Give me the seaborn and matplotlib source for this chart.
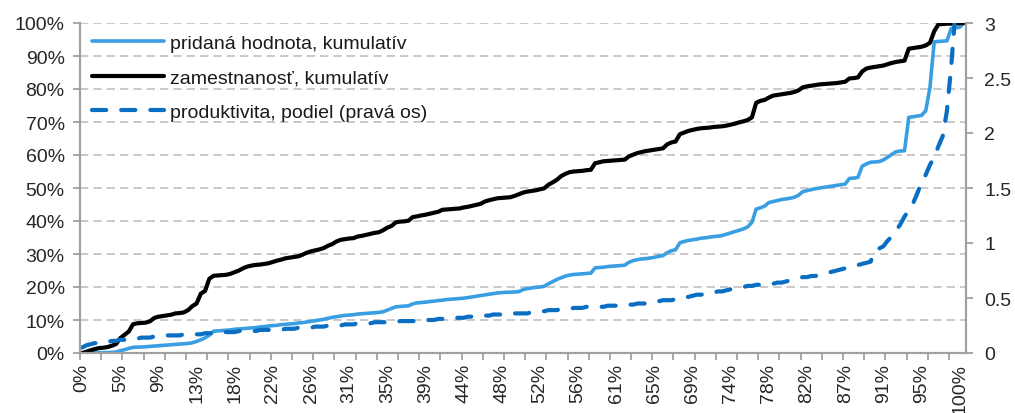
import numpy as np
import matplotlib
matplotlib.use("Agg")
import matplotlib.pyplot as plt
import seaborn as sns
from matplotlib.lines import Line2D
from matplotlib.ticker import FuncFormatter

# cumulative share of value added (%), left axis
value_added = [
    0.0, 0.0, 0.0, 0.1, 0.1, 0.1, 0.1, 0.2, 0.3, 0.7,
    1.0, 1.4, 1.7, 1.8, 1.8, 1.9, 2.0, 2.1, 2.2, 2.3,
    2.4, 2.5, 2.6, 2.7, 2.8, 2.9, 3.1, 3.5, 4.0, 4.6,
    5.4, 6.6, 6.7, 6.8, 6.9, 7.0, 7.2, 7.3, 7.4, 7.5,
    7.6, 7.7, 7.9, 8.0, 8.2, 8.3, 8.4, 8.6, 8.7, 8.8,
    8.9, 9.1, 9.2, 9.4, 9.6, 9.8, 10.0, 10.2, 10.5, 10.8,
    11.0, 11.2, 11.4, 11.5, 11.6, 11.8, 11.9, 12.0, 12.1, 12.2,
    12.3, 12.5, 13.0, 13.5, 14.0, 14.1, 14.2, 14.3, 14.9, 15.2,
    15.3, 15.4, 15.6, 15.7, 15.9, 16.0, 16.2, 16.3, 16.4, 16.5,
    16.6, 16.8, 17.0, 17.2, 17.4, 17.6, 17.8, 18.0, 18.2, 18.3,
    18.4, 18.4, 18.5, 18.6, 19.2, 19.5, 19.7, 19.9, 20.0, 20.2,
    21.0, 21.6, 22.3, 22.8, 23.3, 23.6, 23.8, 23.9, 24.0, 24.1,
    24.2, 25.8, 25.9, 26.0, 26.2, 26.3, 26.4, 26.5, 26.6, 27.5,
    28.0, 28.3, 28.5, 28.6, 28.8, 29.0, 29.3, 29.5, 30.4, 31.0,
    31.3, 33.4, 33.8, 34.1, 34.3, 34.5, 34.8, 34.9, 35.1, 35.3,
    35.4, 35.6, 36.0, 36.4, 36.8, 37.2, 37.6, 38.2, 39.6, 43.6,
    44.0, 44.5, 45.6, 45.9, 46.2, 46.5, 46.7, 46.9, 47.2, 47.8,
    48.9, 49.2, 49.5, 49.8, 50.0, 50.2, 50.4, 50.6, 50.8, 51.0,
    51.2, 52.9, 53.0, 53.2, 56.6, 57.3, 57.8, 57.9, 58.0, 58.5,
    59.3, 60.2, 61.0, 61.2, 61.3, 71.4, 71.6, 71.8, 72.0, 73.4,
    80.5, 94.3, 94.4, 94.5, 94.6, 98.3, 98.5, 98.7, 100.0,
]

# cumulative share of employment (%), left axis
employment = [
    0.0, 0.4, 0.8, 1.2, 1.5, 1.6, 1.8, 2.2, 2.7, 4.5,
    5.5, 6.5, 8.7, 9.0, 9.1, 9.2, 9.6, 10.6, 11.0, 11.2,
    11.4, 11.6, 12.0, 12.1, 12.3, 13.0, 14.2, 15.0, 18.0, 18.8,
    22.5, 23.4, 23.5, 23.6, 23.7, 24.0, 24.5, 25.0, 25.7, 26.2,
    26.5, 26.7, 26.8, 27.0, 27.2, 27.6, 28.0, 28.3, 28.7, 28.9,
    29.1, 29.3, 29.8, 30.4, 30.8, 31.1, 31.4, 31.8, 32.5, 33.0,
    33.8, 34.3, 34.5, 34.7, 34.8, 35.3, 35.5, 35.8, 36.1, 36.4,
    36.6, 37.2, 38.0, 38.5, 39.6, 39.8, 39.9, 40.1, 41.2, 41.4,
    41.7, 41.9, 42.2, 42.5, 42.8, 43.4, 43.5, 43.6, 43.7, 43.8,
    44.1, 44.3, 44.6, 44.9, 45.2, 45.9, 46.3, 46.6, 46.9, 47.0,
    47.1, 47.2, 47.6, 48.1, 48.6, 48.9, 49.1, 49.3, 49.6, 49.9,
    51.0, 51.7, 52.5, 53.6, 54.3, 54.8, 55.0, 55.1, 55.2, 55.4,
    55.5, 57.5, 57.8, 58.1, 58.2, 58.3, 58.4, 58.5, 58.6, 59.6,
    60.1, 60.6, 60.9, 61.2, 61.4, 61.6, 61.8, 62.0, 63.2, 63.8,
    64.1, 66.3, 66.8, 67.3, 67.6, 67.9, 68.1, 68.2, 68.3, 68.5,
    68.6, 68.7, 68.9, 69.2, 69.5, 69.9, 70.2, 70.6, 71.4, 75.8,
    76.4, 76.7, 77.4, 78.0, 78.2, 78.4, 78.6, 78.8, 79.1, 79.6,
    80.5, 80.8, 81.0, 81.2, 81.4, 81.5, 81.6, 81.7, 81.8, 82.0,
    82.2, 83.2, 83.3, 83.5, 85.3, 86.2, 86.5, 86.7, 86.9, 87.1,
    87.5, 87.9, 88.2, 88.4, 88.6, 92.2, 92.4, 92.6, 92.8, 93.2,
    94.0, 97.5, 99.6, 99.7, 99.8, 99.8, 99.9, 99.9, 100.0,
]

# productivity ratio, right axis
productivity = [
    0.05, 0.07, 0.08, 0.09, 0.09, 0.10, 0.10, 0.11, 0.11, 0.12,
    0.12, 0.13, 0.13, 0.13, 0.14, 0.14, 0.14, 0.15, 0.15, 0.15,
    0.16, 0.16, 0.16, 0.16, 0.17, 0.17, 0.17, 0.17, 0.17, 0.18,
    0.18, 0.18, 0.19, 0.19, 0.19, 0.19, 0.19, 0.20, 0.20, 0.20,
    0.20, 0.20, 0.21, 0.21, 0.21, 0.21, 0.21, 0.21, 0.22, 0.22,
    0.22, 0.23, 0.23, 0.23, 0.23, 0.24, 0.24, 0.24, 0.25, 0.25,
    0.25, 0.25, 0.26, 0.26, 0.26, 0.27, 0.27, 0.27, 0.27, 0.28,
    0.28, 0.28, 0.28, 0.28, 0.28, 0.29, 0.29, 0.29, 0.29, 0.29,
    0.29, 0.30, 0.30, 0.30, 0.31, 0.31, 0.31, 0.31, 0.32, 0.32,
    0.32, 0.33, 0.33, 0.33, 0.33, 0.34, 0.34, 0.35, 0.35, 0.35,
    0.36, 0.36, 0.36, 0.36, 0.36, 0.36, 0.37, 0.37, 0.38, 0.38,
    0.39, 0.39, 0.39, 0.40, 0.40, 0.40, 0.41, 0.41, 0.41, 0.42,
    0.42, 0.42, 0.42, 0.42, 0.43, 0.43, 0.43, 0.43, 0.44, 0.44,
    0.44, 0.45, 0.45, 0.45, 0.46, 0.46, 0.47, 0.48, 0.48, 0.48,
    0.49, 0.50, 0.51, 0.51, 0.52, 0.53, 0.53, 0.54, 0.54, 0.55,
    0.56, 0.56, 0.57, 0.58, 0.59, 0.59, 0.60, 0.61, 0.61, 0.62,
    0.62, 0.62, 0.63, 0.63, 0.64, 0.64, 0.65, 0.66, 0.67, 0.68,
    0.69, 0.69, 0.70, 0.70, 0.71, 0.72, 0.73, 0.74, 0.75, 0.76,
    0.77, 0.78, 0.79, 0.80, 0.81, 0.82, 0.83, 0.93, 0.95, 0.97,
    1.02, 1.06, 1.11, 1.17, 1.24, 1.30, 1.36, 1.45, 1.55, 1.62,
    1.71, 1.78, 1.88, 1.97, 2.20, 2.60, 3.10, 3.30, 3.50,
]

x_labels = ["0%", "5%", "9%", "13%", "18%", "22%", "26%", "31%", "35%", "39%",
            "44%", "48%", "52%", "56%", "61%", "65%", "69%", "74%", "78%", "82%",
            "87%", "91%", "95%", "100%"]
right_ticks = [0, 0.5, 1, 1.5, 2, 2.5, 3]
right_labels = ["0", "0.5", "1", "1.5", "2", "2.5", "3"]

series_names = ["pridaná hodnota, kumulatív", "zamestnanosť, kumulatív",
                "produktivita, podiel (pravá os)"]

light_blue = "#3a9fe2"
dark_blue = "#0a6fc2"
axis_grey = "#a0a0a0"
grid_grey = "#c0c0c0"
fs = 14
dash = (0, (3.4, 3.6))

sns.set_style("white")
plt.rcParams['font.family'] = ['Liberation Sans', 'DejaVu Sans']
plt.rcParams['text.color'] = '#1a1a1a'

n = len(value_added)
pos = np.arange(n)

fig = plt.figure(figsize=(10.15, 4.14), dpi=100)
ax = fig.add_axes([80 / 1015, 1 - 354 / 414, 886 / 1015, 330 / 414])
ax2 = ax.twinx()

sns.lineplot(x=pos, y=value_added, ax=ax, color=light_blue, linewidth=2.6, legend=False)
sns.lineplot(x=pos, y=employment, ax=ax, color="black", linewidth=3.0, legend=False)
sns.lineplot(x=pos, y=productivity, ax=ax2, color=dark_blue, linewidth=3.0, legend=False)
ax2.lines[0].set_linestyle(dash)
ax2.lines[0].set_dash_capstyle("round")

ax.set_xlim(-0.5, n - 0.5)
ax.set_ylim(0, 100)
ax2.set_ylim(0, 3)

ax.set_yticks(np.arange(0, 101, 10))
ax.yaxis.set_major_formatter(FuncFormatter(lambda v, p: f"{v:.0f}%"))
ax.grid(axis="y", color=grid_grey, linestyle=(0, (5, 3)), linewidth=1.2)
ax.grid(axis="x", visible=False)
ax2.grid(False)

ax.set_xticks(pos[::9])
ax.set_xticklabels(x_labels, rotation=90)
ax.set_xticks(np.arange(-0.5, n, 5), minor=True)
ax.tick_params(axis="x", which="major", length=0, pad=7, labelsize=fs, bottom=True)
ax.tick_params(axis="x", which="minor", length=5, width=1.3, color=axis_grey,
               direction="out", bottom=True)
ax.tick_params(axis="y", which="major", length=5, width=1.3, color=axis_grey,
               direction="out", left=True, pad=6, labelsize=fs)

ax2.set_yticks(right_ticks)
ax2.set_yticklabels(right_labels)
ax2.tick_params(axis="y", length=5, width=1.3, color=axis_grey, direction="out",
                right=True, pad=8, labelsize=fs)

for a in (ax, ax2):
    for side in ("left", "right", "bottom"):
        a.spines[side].set_visible(True)
        a.spines[side].set_color(axis_grey)
        a.spines[side].set_linewidth(1.5)
    a.spines["top"].set_visible(False)
ax.set_xlabel("")
ax.set_ylabel("")
ax2.set_ylabel("")

handles = [
    Line2D([], [], color=light_blue, linewidth=2.6),
    Line2D([], [], color="black", linewidth=3.0),
    Line2D([], [], color=dark_blue, linewidth=3.0, linestyle=dash,
           dash_capstyle="round"),
]
ax2.legend(handles, series_names, loc="upper left", bbox_to_anchor=(0.0, 1.0),
           frameon=False, fontsize=fs, handlelength=3.7, handletextpad=0.35,
           labelspacing=0.85, borderaxespad=0.2)

fig.savefig("out.png", dpi=100)
